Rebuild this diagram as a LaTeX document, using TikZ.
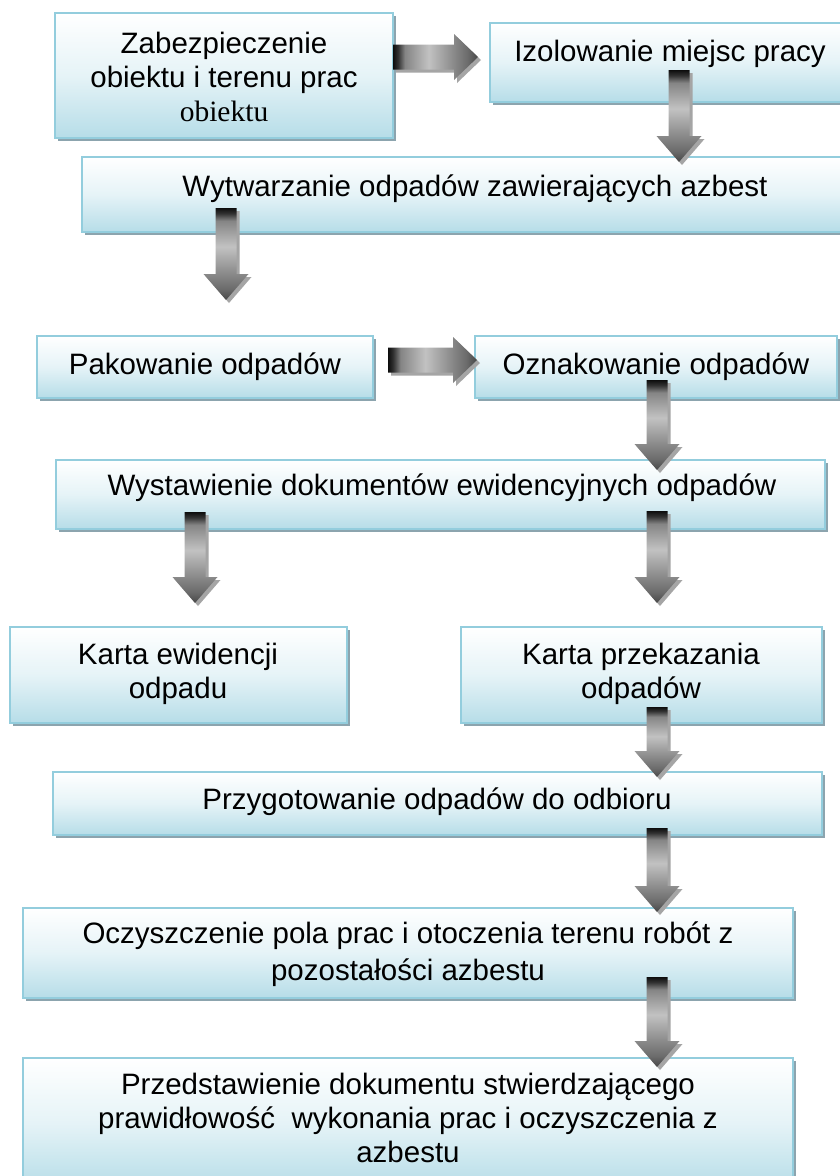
\documentclass[tikz,border=0pt]{standalone}
\usepackage{fontspec}
\setmainfont{Liberation Sans}
\newfontfamily\serifface{Liberation Serif}
\usetikzlibrary{calc,shadows}
\definecolor{boxborder}{RGB}{147,205,221}
\definecolor{boxfill}{RGB}{182,221,232}
\definecolor{boxshadow}{RGB}{140,164,174}
\definecolor{arrshad}{RGB}{165,165,165}
\newcommand{\bxfont}{\fontsize{29.5pt}{34pt}\selectfont}
\pgfdeclareverticalshading{arrowv}{100bp}{%
  color(0bp)=(black!72); color(25bp)=(black!72); color(31bp)=(black!58);
  color(38bp)=(black!48); color(54bp)=(black!24); color(68bp)=(black!48);
  color(72bp)=(black!80); color(75bp)=(black!95); color(100bp)=(black!95)}
\pgfdeclarehorizontalshading{arrowh}{100bp}{%
  color(0bp)=(black!95); color(25bp)=(black!95); color(28bp)=(black!80);
  color(32bp)=(black!48); color(46bp)=(black!24); color(62bp)=(black!48);
  color(69bp)=(black!58); color(75bp)=(black!72); color(100bp)=(black!72)}
\tikzset{
  flowbox/.style={draw=boxborder, line width=1.5pt, top color=white, bottom color=boxfill,
    middle color=boxfill!35, inner sep=0pt,
    drop shadow={shadow xshift=3pt, shadow yshift=-3pt, fill=boxshadow, opacity=1}},
  boxsize/.style 2 args={minimum width=#1, minimum height=#2},
  boxtext/.style={align=center, font=\bxfont, inner sep=0pt, text=black},
  vbody/.style={shading=arrowv},
  hbody/.style={shading=arrowh}
}
\newcommand{\vblock}[2]{%
  \fill[arrshad] let \p1=(#1), \p2=(#2) in
    (\x1-7.5pt,\y1-3pt) -- (\x1+13.5pt,\y1-3pt) -- (\x1+13.5pt,\y2+23pt) -- (\x1+25.5pt,\y2+23pt)
    -- (\x2+3pt,\y2-3pt) -- (\x1-19.5pt,\y2+23pt) -- (\x1-7.5pt,\y2+23pt) -- cycle;
  \shade[vbody] let \p1=(#1), \p2=(#2) in
    (\x1-10.5pt,\y1) -- (\x1+10.5pt,\y1) -- (\x1+10.5pt,\y2+26pt) -- (\x1+22.5pt,\y2+26pt)
    -- (\x2,\y2) -- (\x1-22.5pt,\y2+26pt) -- (\x1-10.5pt,\y2+26pt) -- cycle;
}
\newcommand{\hblock}[2]{%
  \fill[arrshad] let \p1=(#1), \p2=(#2) in
    (\x1+3pt,\y1+9.5pt) -- (\x2-21pt,\y1+9.5pt) -- (\x2-21pt,\y1+20pt) -- (\x2+3pt,\y2-3pt)
    -- (\x2-21pt,\y1-26pt) -- (\x2-21pt,\y1-15.5pt) -- (\x1+3pt,\y1-15.5pt) -- cycle;
  \shade[hbody] let \p1=(#1), \p2=(#2) in
    (\x1,\y1+12.5pt) -- (\x2-24pt,\y1+12.5pt) -- (\x2-24pt,\y1+23pt) -- (\x2,\y2)
    -- (\x2-24pt,\y1-23pt) -- (\x2-24pt,\y1-12.5pt) -- (\x1,\y1-12.5pt) -- cycle;
}
\begin{document}
\begin{tikzpicture}[x=1pt,y=-1pt]
\useasboundingbox (0,0) rectangle (840,1176);
\fill[white] (0,0) rectangle (840,1176);

% boxes
\node[flowbox, boxsize={338pt}{125pt}] (b1) at (224,75.5) {};
\node[flowbox, boxsize={360pt}{79pt}] (b2) at (670,62.5) {};
\node[flowbox, boxsize={786pt}{75pt}] (b3) at (475,194.5) {};
\node[flowbox, boxsize={336pt}{62pt}] (b4) at (205,367) {};
\node[flowbox, boxsize={362pt}{62pt}] (b5) at (656,367) {};
\node[flowbox, boxsize={769pt}{69pt}] (b6) at (440.5,494.5) {};
\node[flowbox, boxsize={337pt}{96pt}] (b7) at (178.5,675) {};
\node[flowbox, boxsize={361pt}{96pt}] (b8) at (641.5,675) {};
\node[flowbox, boxsize={769pt}{63pt}] (b9) at (437.5,803.5) {};
\node[flowbox, boxsize={770pt}{90pt}] (b10) at (408,953) {};
\node[flowbox, boxsize={770pt}{130pt}] (b11) at (408,1123) {};

% texts
\node[boxtext] (t1) at (224,77) {Zabezpieczenie\\obiektu i terenu prac\\{\serifface obiektu}};
\node[boxtext] (t2) at (670,54) {Izolowanie miejsc pracy};
\node[boxtext] (t3) at (475,189) {Wytwarzanie odpadów zawierających azbest};
\node[boxtext] (t4) at (205,367) {Pakowanie odpadów};
\node[boxtext] (t5) at (656,367) {Oznakowanie odpadów};
\node[boxtext] (t6) at (442,488) {Wystawienie dokumentów ewidencyjnych odpadów};
\node[boxtext] (t7) at (178,674) {Karta ewidencji\\odpadu};
\node[boxtext] (t8) at (641,674) {Karta przekazania\\odpadów};
\node[boxtext] (t9) at (437,802) {Przygotowanie odpadów do odbioru};
\node[boxtext, font=\fontsize{29.5pt}{37pt}\selectfont] (t10) at (408,954) {Oczyszczenie pola prac i otoczenia terenu robót z\\pozostałości azbestu};
\node[boxtext] (t11) at (408,1118) {Przedstawienie dokumentu stwierdzającego\\prawidłowość\ \ wykonania prac i oczyszczenia z\\azbestu};

% arrow end points
\coordinate (a1s) at (393,57);  \coordinate (a1e) at (478,57);
\coordinate (a2s) at (388,360); \coordinate (a2e) at (477,360);
\coordinate (v1s) at (679,70);  \coordinate (v1e) at (679,162);
\coordinate (v2s) at (226,208); \coordinate (v2e) at (226,300);
\coordinate (v3s) at (657,380); \coordinate (v3e) at (657,470);
\coordinate (v4s) at (195,512); \coordinate (v4e) at (195,603);
\coordinate (v5s) at (657,511); \coordinate (v5e) at (657,603);
\coordinate (v6s) at (657,707); \coordinate (v6e) at (657,777);
\coordinate (v7s) at (657,828); \coordinate (v7e) at (657,912);
\coordinate (v8s) at (657,977); \coordinate (v8e) at (657,1067);

% arrows
\hblock{a1s}{a1e}
\hblock{a2s}{a2e}
\vblock{v1s}{v1e}
\vblock{v2s}{v2e}
\vblock{v3s}{v3e}
\vblock{v4s}{v4e}
\vblock{v5s}{v5e}
\vblock{v6s}{v6e}
\vblock{v7s}{v7e}
\vblock{v8s}{v8e}
\end{tikzpicture}
\end{document}
